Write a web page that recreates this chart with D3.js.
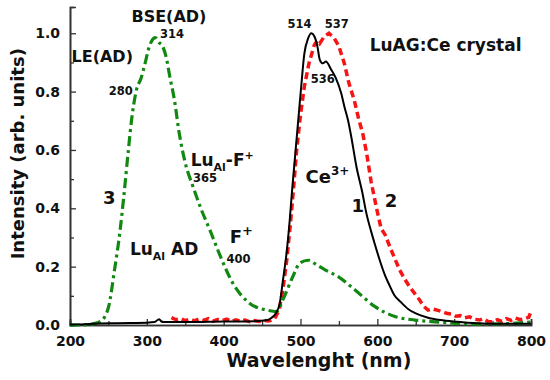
<!DOCTYPE html>
<html>
<head>
<meta charset="utf-8">
<script src="https://cdn.jsdelivr.net/npm/d3@7"></script>
<style>
  body { margin: 0; background: #fff; }
  svg text { font-family: "DejaVu Sans", sans-serif; font-weight: bold; fill: #111; }
</style>
</head>
<body>
<svg id="chart" width="550" height="380"></svg>
<script>
const svg = d3.select('#chart')

// curve 1 - black solid
const wl1 = [200, 220, 240, 260, 280, 300, 310, 316, 319, 322, 340, 360, 380, 400, 420, 440, 455, 462, 468, 473, 477, 482, 486, 489, 493, 497, 501, 505, 510, 514, 518, 522, 525, 529, 533, 540, 546, 553, 557, 562, 566, 573, 580, 586, 592, 597, 604, 610, 616, 622, 630, 640, 650, 665, 682, 704, 730, 760, 800]
const int1 = [0.002, 0.003, 0.005, 0.006, 0.007, 0.008, 0.01, 0.02, 0.012, 0.01, 0.01, 0.01, 0.011, 0.012, 0.012, 0.013, 0.016, 0.024, 0.04, 0.074, 0.15, 0.25, 0.36, 0.46, 0.58, 0.7, 0.82, 0.93, 0.983, 1.0, 0.99, 0.955, 0.91, 0.897, 0.903, 0.875, 0.846, 0.794, 0.75, 0.7, 0.646, 0.54, 0.46, 0.38, 0.32, 0.275, 0.215, 0.17, 0.135, 0.103, 0.08, 0.055, 0.04, 0.026, 0.017, 0.011, 0.006, 0.004, 0.004]

// curve 2 - red dashed
const wl2 = [332, 338, 344, 350, 356, 362, 368, 374, 380, 386, 392, 398, 404, 410, 416, 422, 428, 434, 440, 446, 452, 458, 462, 466, 472, 477, 482, 487, 491, 495, 500, 505, 511, 518, 522, 525, 531, 537, 544, 550, 557, 563, 570, 576, 581, 586, 592, 599, 605, 610, 618, 624, 629, 635, 642, 648, 655, 660, 666, 672, 679, 685, 690, 696, 702, 708, 714, 720, 726, 733, 738, 744, 750, 756, 762, 768, 774, 780, 786, 792, 797, 800]
const int2 = [0.025, 0.018, 0.022, 0.015, 0.02, 0.014, 0.021, 0.016, 0.022, 0.013, 0.019, 0.015, 0.02, 0.012, 0.018, 0.013, 0.017, 0.011, 0.015, 0.012, 0.016, 0.014, 0.016, 0.02, 0.05, 0.12, 0.22, 0.35, 0.47, 0.6, 0.72, 0.817, 0.897, 0.96, 0.975, 0.965, 0.989, 1.0, 0.983, 0.955, 0.897, 0.829, 0.77, 0.703, 0.657, 0.59, 0.49, 0.4, 0.33, 0.31, 0.257, 0.22, 0.189, 0.16, 0.131, 0.11, 0.086, 0.065, 0.051, 0.055, 0.05, 0.045, 0.04, 0.038, 0.03, 0.032, 0.025, 0.028, 0.02, 0.017, 0.022, 0.012, 0.011, 0.018, 0.012, 0.022, 0.016, 0.024, 0.018, 0.022, 0.026, 0.046]

// curve 3 - green dash-dot
const wl3 = [200, 215, 230, 240, 250, 258, 265, 270, 276, 280, 286, 293, 298, 302, 306, 311, 316, 320, 325, 330, 336, 342, 350, 360, 371, 382, 395, 412, 434, 456, 469, 477, 490, 499, 510, 521, 532, 549, 571, 597, 623, 649, 675, 700, 735, 770, 800]
const int3 = [0, 0, 0.004, 0.013, 0.06, 0.19, 0.32, 0.44, 0.6, 0.7, 0.8, 0.85, 0.9, 0.944, 0.972, 0.985, 0.968, 0.958, 0.92, 0.85, 0.77, 0.66, 0.556, 0.475, 0.395, 0.326, 0.24, 0.143, 0.074, 0.051, 0.046, 0.086, 0.166, 0.212, 0.222, 0.206, 0.189, 0.166, 0.12, 0.063, 0.029, 0.017, 0.011, 0.006, 0.003, 0.005, 0.01]

const xTicks = [200, 300, 400, 500, 600, 700, 800]
const yTicks = [0.0, 0.2, 0.4, 0.6, 0.8, 1.0]

const x = d3.scaleLinear().domain([200, 800]).range([70, 531])
const y = d3.scaleLinear().domain([0, 1.09]).range([325, 7])

// axes, ticks pointing inside
svg.append('g')
  .attr('transform', 'translate(0,325)')
  .call(d3.axisBottom(x).tickValues(xTicks).tickSize(-6).tickPadding(11).tickFormat(d3.format('d')))
svg.append('g')
  .attr('transform', 'translate(0,325)')
  .call(d3.axisBottom(x).tickValues(d3.range(250, 800, 100)).tickSize(-4).tickFormat(''))
svg.append('g')
  .attr('transform', 'translate(70,0)')
  .call(d3.axisLeft(y).tickValues(yTicks).tickSize(-6).tickPadding(10).tickFormat(d3.format('.1f')))
svg.append('g')
  .attr('transform', 'translate(70,0)')
  .call(d3.axisLeft(y).tickValues([0.1, 0.3, 0.5, 0.7, 0.9]).tickSize(-4).tickFormat(''))

svg.selectAll('.domain').attr('stroke', '#333').attr('stroke-width', 1.6)
svg.selectAll('.tick line').attr('stroke', '#333').attr('stroke-width', 1.3)
svg.selectAll('.tick text').style('font-size', '14px').attr('fill', '#111')

// axis titles
svg.append('text')
  .attr('x', x(524)).attr('y', 367)
  .attr('text-anchor', 'middle')
  .style('font-size', '19px')
  .text('Wavelenght (nm)')
svg.append('text')
  .attr('transform', `translate(24, ${y(0.587)}) rotate(-90)`)
  .attr('text-anchor', 'middle')
  .style('font-size', '18px')
  .text('Intensity (arb. units)')

// curves
const line = d3.line().x(d => x(d[0])).y(d => y(d[1]))

svg.append('path')
  .datum(d3.zip(wl2, int2))
  .attr('d', line)
  .attr('fill', 'none')
  .attr('stroke', '#f51515')
  .attr('stroke-width', 3.5)
  .attr('stroke-dasharray', '7,4')

svg.append('path')
  .datum(d3.zip(wl3, int3))
  .attr('d', line.curve(d3.curveMonotoneX))
  .attr('fill', 'none')
  .attr('stroke', '#118811')
  .attr('stroke-width', 3.2)
  .attr('stroke-dasharray', '10,4,3,4')

svg.append('path')
  .datum(d3.zip(wl1, int1))
  .attr('d', line.curve(d3.curveMonotoneX))
  .attr('fill', 'none')
  .attr('stroke', '#000')
  .attr('stroke-width', 2)

// annotations: [wavelength, intensity, text, size]
const notes = [
  [280, 1.04, 'BSE(AD)', 16],
  [317, 0.985, '314', 11.5],
  [202, 0.9, 'LE(AD)', 16],
  [250.5, 0.789, '280', 11.5],
  [360, 0.49, '365', 11.5],
  [243, 0.415, '3', 18],
  [403.8, 0.214, '400', 11.5],
  [483, 1.018, '514', 11.5],
  [531.6, 1.019, '537', 11.5],
  [513.4, 0.829, '536', 11.5],
  [590, 0.9376, 'LuAG:Ce crystal', 17],
  [566.3, 0.389, '1', 18],
  [609.6, 0.404, '2', 18]
]
svg.selectAll('text.note')
  .data(notes)
  .enter()
  .append('text')
    .attr('class', 'note')
    .attr('x', d => x(d[0]))
    .attr('y', d => y(d[1]))
    .style('font-size', d => d[3] + 'px')
    .text(d => d[2])

// labels with sub/superscripts
const luF = svg.append('text').attr('x', x(357)).attr('y', y(0.546)).style('font-size', '17px')
luF.append('tspan').text('Lu')
luF.append('tspan').attr('dy', 5).style('font-size', '11px').text('Al')
luF.append('tspan').attr('dy', -5).text('-F')
luF.append('tspan').attr('dy', -7).style('font-size', '11px').text('+')

const luAD = svg.append('text').attr('x', x(278)).attr('y', y(0.24)).style('font-size', '17px')
luAD.append('tspan').text('Lu')
luAD.append('tspan').attr('dy', 5).style('font-size', '11px').text('Al')
luAD.append('tspan').attr('dy', -5).text(' AD')

const fPlus = svg.append('text').attr('x', x(408)).attr('y', y(0.28)).style('font-size', '18px')
fPlus.append('tspan').text('F')
fPlus.append('tspan').attr('dy', -8).style('font-size', '13px').text('+')

const ce = svg.append('text').attr('x', x(506.5)).attr('y', y(0.486)).style('font-size', '18px')
ce.append('tspan').text('Ce')
ce.append('tspan').attr('dy', -8).style('font-size', '12px').text('3+')
</script>
</body>
</html>
